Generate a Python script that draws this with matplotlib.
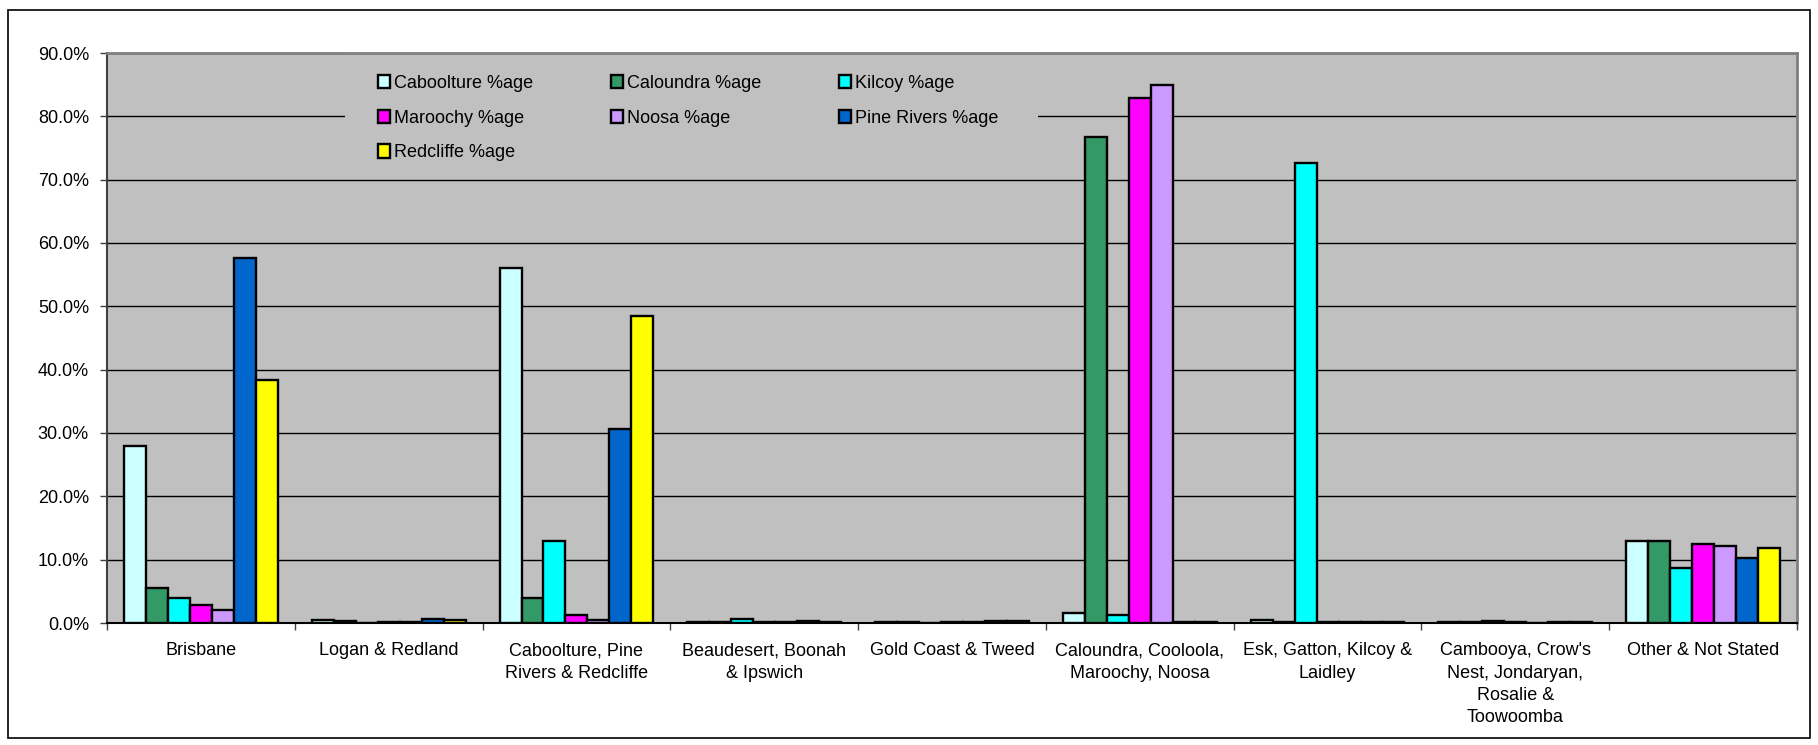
import numpy as np
import matplotlib
matplotlib.use("Agg")
import matplotlib.pyplot as plt
from matplotlib.patches import Rectangle
from matplotlib.ticker import FuncFormatter

plt.rcParams['font.family'] = ['Liberation Sans', 'DejaVu Sans']

# regions (x categories)
regions = ["Brisbane", "Logan & Redland", "Caboolture, Pine\nRivers & Redcliffe",
           "Beaudesert, Boonah\n& Ipswich", "Gold Coast & Tweed",
           "Caloundra, Cooloola,\nMaroochy, Noosa", "Esk, Gatton, Kilcoy &\nLaidley",
           "Cambooya, Crow's\nNest, Jondaryan,\nRosalie &\nToowoomba", "Other & Not Stated"]

# series, percent values per region
caboolture = [28.0, 0.5, 56.1, 0.2, 0.2, 1.6, 0.5, 0.1, 13.0]
caloundra = [5.5, 0.3, 4.0, 0.2, 0.1, 76.8, 0.2, 0.1, 12.9]
kilcoy = [3.9, 0.0, 12.9, 0.6, 0.0, 1.3, 72.6, 0.3, 8.7]
maroochy = [2.9, 0.2, 1.2, 0.1, 0.1, 82.9, 0.1, 0.1, 12.4]
noosa = [2.0, 0.1, 0.5, 0.1, 0.1, 84.9, 0.1, 0.0, 12.2]
pine_rivers = [57.6, 0.7, 30.6, 0.3, 0.3, 0.2, 0.1, 0.1, 10.2]
redcliffe = [38.4, 0.5, 48.4, 0.2, 0.3, 0.2, 0.1, 0.1, 11.8]

series = [("Caboolture %age", caboolture, "#CCFFFF"),
          ("Caloundra %age", caloundra, "#339966"),
          ("Kilcoy %age", kilcoy, "#00FFFF"),
          ("Maroochy %age", maroochy, "#FF00FF"),
          ("Noosa %age", noosa, "#CC99FF"),
          ("Pine Rivers %age", pine_rivers, "#0066CC"),
          ("Redcliffe %age", redcliffe, "#FFFF00")]

fig = plt.figure(figsize=(18.18, 7.45), dpi=100)
ax = fig.add_axes([107/1818, 1-623/745, 1690/1818, 570/745])
ax.set_facecolor("#C0C0C0")

# outer chart border
fig.patches.append(Rectangle((8/1818, 1-738/745), 1802/1818, 728/745,
                             transform=fig.transFigure, fill=False,
                             edgecolor="black", linewidth=1.2))

x = np.arange(len(regions))
w = 0.117
handles = []
for i, (name, vals, col) in enumerate(series):
    b = ax.bar(x + (i-3)*w, np.array(vals)/100, w, color=col,
               edgecolor="black", linewidth=1.7, label=name, zorder=3)
    handles.append(b)

ax.set_xlim(-0.5, len(regions)-0.5)
ax.set_ylim(0, 0.9)
ax.set_yticks(np.arange(0, 0.91, 0.1))
ax.yaxis.set_major_formatter(FuncFormatter(lambda v, p: "%.1f%%" % (v*100)))
ax.yaxis.grid(True, color="black", linewidth=1.0, zorder=0)
ax.set_axisbelow(True)

ax.set_xticks(x)
ax.set_xticklabels(regions, fontsize=13, linespacing=1.4, va="top")
ax.set_xticks(np.arange(-0.5, len(regions), 1), minor=True)
ax.tick_params(axis="x", which="major", length=0, pad=14)
ax.tick_params(axis="x", which="minor", length=5, width=1, color="#404040")
ax.tick_params(axis="y", length=5, width=1, labelsize=13, pad=8, color="#404040")

for s in ["top", "right"]:
    ax.spines[s].set_color("#808080")
    ax.spines[s].set_linewidth(2)
ax.spines["left"].set_color("#404040")
ax.spines["left"].set_linewidth(1.5)
ax.spines["bottom"].set_color("black")
ax.spines["bottom"].set_linewidth(1.5)

# legend area hides gridlines
ax.add_patch(Rectangle(((345-107)/1690, (623-172)/570), (1038-345)/1690, 172/570,
                       transform=ax.transAxes, facecolor="#C0C0C0",
                       edgecolor="none", zorder=1))

order = [0, 3, 6, 1, 4, 2, 5]
leg = ax.legend([handles[k] for k in order], [series[k][0] for k in order],
                ncol=3, loc="upper left", bbox_to_anchor=((378-107)/1690, (623-75)/570),
                frameon=False, fontsize=13, handlelength=0.65, handleheight=0.75,
                handletextpad=0.25, columnspacing=4.3, labelspacing=0.98,
                borderpad=0, borderaxespad=0)

plt.savefig("out.png", dpi=100)
